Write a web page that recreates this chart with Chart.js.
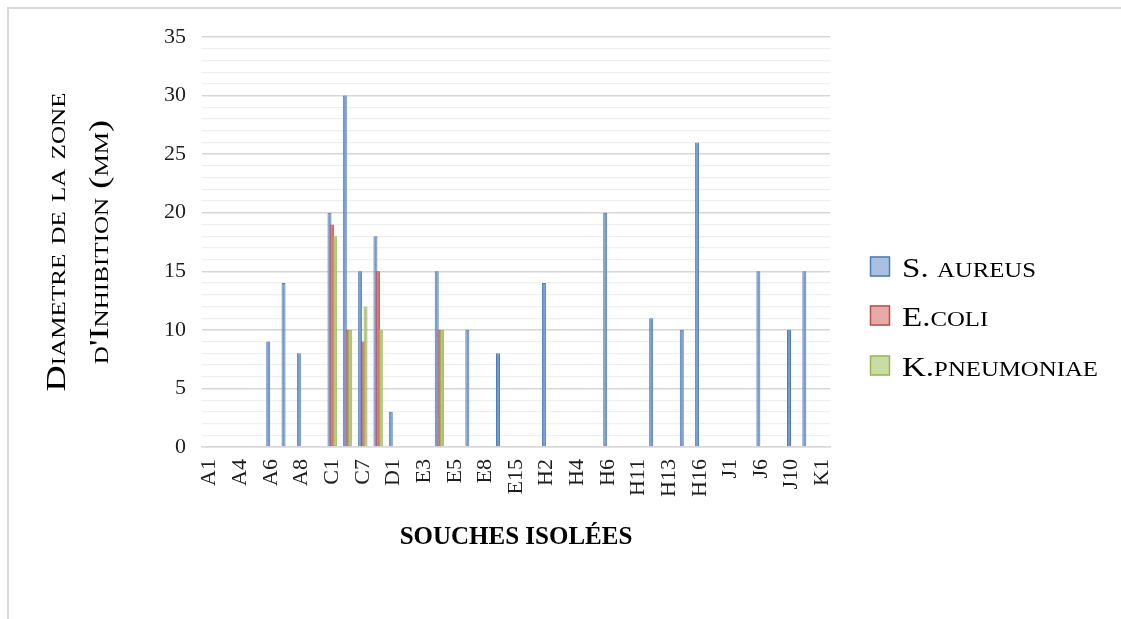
<!DOCTYPE html>
<html>
<head>
<meta charset="utf-8">
<script src="https://cdn.jsdelivr.net/npm/chart.js@4.4.0/dist/chart.umd.min.js"></script>
<style>
  html, body { margin: 0; padding: 0; background: #ffffff; }
  #wrap { position: relative; width: 1121px; height: 619px; }
</style>
</head>
<body>
<div id="wrap"><canvas id="chart" width="1121" height="619"></canvas></div>
<script>
// Isolated strains (only every other one is labelled on the axis)
const categories = [
  'A1', 'A3', 'A4', 'A5', 'A6', 'A7', 'A8', 'B1', 'C1', 'C5',
  'C7', 'C8', 'D1', 'E1', 'E3', 'E4', 'E5', 'E6', 'E8', 'E10',
  'E15', 'H1', 'H2', 'H3', 'H4', 'H5', 'H6', 'H10', 'H11', 'H12',
  'H13', 'H15', 'H16', 'I1', 'J1', 'J5', 'J6', 'J8', 'J10', 'J11', 'K1'
];

// Inhibition zone diameters (mm)
const sAureus = [
  null, null, null, null, 9, 14, 8, null, 20, 30,
  15, 18, 3, null, null, 15, null, 10, null, 8,
  null, null, 14, null, null, null, 20, null, null, 11,
  null, 10, 26, null, null, null, 15, null, 10, 15, null
];
const eColi = [
  null, null, null, null, null, null, null, null, 19, 10,
  9, 15, null, null, null, 10, null, null, null, null,
  null, null, null, null, null, null, null, null, null, null,
  null, null, null, null, null, null, null, null, null, null, null
];
const kPneumoniae = [
  null, null, null, null, null, null, null, null, 18, 10,
  12, 10, null, null, null, 10, null, null, null, null,
  null, null, null, null, null, null, null, null, null, null,
  null, null, null, null, null, null, null, null, null, null, null
];

const seriesNames = ['S. aureus', 'E.coli', 'K.pneumoniae'];
const yTitleLines = ['Diametre de la zone', "d'Inhibition (mm)"];
const xTitle = 'SOUCHES ISOLÉES';

const SERIF = "'Liberation Serif', 'Times New Roman', serif";
const palette = [
  { fill: '#7799cf', edge: '#4a7ebb', key: '#a9c0e2' },
  { fill: '#d4726f', edge: '#be4b48', key: '#e6aaa9' },
  { fill: '#abc86f', edge: '#98b954', key: '#c8dca3' }
];

// Small capitals: lowercase letters are drawn as reduced capitals.
function smallCapsRuns(text, big, ratio) {
  const runs = [];
  for (const ch of text) {
    const up = ch.toUpperCase();
    const small = up !== ch;
    runs.push({ ch: small ? up : ch, size: small ? big * ratio : big });
  }
  return runs;
}
function measureRuns(ctx, runs, weight) {
  let w = 0;
  for (const r of runs) {
    ctx.font = `${weight} ${r.size}px ${SERIF}`;
    r.w = ctx.measureText(r.ch).width;
    w += r.w;
  }
  return w;
}
function drawRuns(ctx, runs, x0, y, weight) {
  let x = x0;
  for (const r of runs) {
    ctx.font = `${weight} ${r.size}px ${SERIF}`;
    ctx.fillText(r.ch, x, y);
    x += r.w;
  }
}

// Series are painted in their natural order so later ones sit on top
// of the earlier ones where the bars of a group overlap.
const seriesLayering = {
  id: 'seriesLayering',
  beforeDatasetDraw(chart) {
    return chart.$layering === true;
  },
  afterDatasetsDraw(chart) {
    const ctx = chart.ctx;
    chart.$layering = true;
    chart.data.datasets.forEach((ds, i) => {
      const meta = chart.getDatasetMeta(i);
      if (!meta.hidden) meta.data.forEach((el) => el.draw(ctx));
    });
    chart.$layering = false;
  }
};

const decorations = {
  id: 'decorations',
  beforeDraw(chart) {
    const ctx = chart.ctx;
    ctx.save();
    ctx.fillStyle = '#ffffff';
    ctx.fillRect(0, 0, chart.width, chart.height);
    // outer frame
    ctx.strokeStyle = '#d9d9d9';
    ctx.lineWidth = 2;
    ctx.beginPath();
    ctx.moveTo(8, chart.height);
    ctx.lineTo(8, 8);
    ctx.lineTo(chart.width, 8);
    ctx.stroke();
    ctx.restore();
  },
  afterDraw(chart) {
    const ctx = chart.ctx;
    const area = chart.chartArea;
    ctx.save();
    ctx.fillStyle = '#000000';
    ctx.textBaseline = 'alphabetic';

    // y-axis title, two rotated lines
    const cy = (area.top + area.bottom) / 2;
    const baselines = [65, 108];
    yTitleLines.forEach((line, i) => {
      const runs = smallCapsRuns(line, 28, 0.69);
      const w = measureRuns(ctx, runs, 'normal');
      ctx.save();
      ctx.translate(baselines[i], cy);
      ctx.rotate(-Math.PI / 2);
      ctx.scale(1.3, 1);
      drawRuns(ctx, runs, -w / 2, 0, 'normal');
      ctx.restore();
    });

    // x-axis title
    ctx.font = `bold 25px ${SERIF}`;
    ctx.textAlign = 'center';
    ctx.fillText(xTitle, (area.left + area.right) / 2, 544);
    ctx.textAlign = 'left';

    // legend
    const rowY = [266.5, 315.5, 365.5];
    seriesNames.forEach((name, i) => {
      const c = palette[i];
      const y = rowY[i];
      ctx.fillStyle = c.key;
      ctx.fillRect(870, y - 10, 20, 20);
      ctx.strokeStyle = c.edge;
      ctx.lineWidth = 1.5;
      ctx.strokeRect(870.5, y - 9.5, 19, 19);
      ctx.fillStyle = '#000000';
      const runs = smallCapsRuns(name, 28, 0.75);
      measureRuns(ctx, runs, 'normal');
      ctx.save();
      ctx.translate(902, y + 10);
      ctx.scale(1.18, 1);
      drawRuns(ctx, runs, 0, 0, 'normal');
      ctx.restore();
    });
    ctx.restore();
  }
};

const makeSet = (label, data, c) => ({
  label, data,
  backgroundColor: c.fill,
  borderColor: c.edge,
  borderWidth: 1
});

new Chart(document.getElementById('chart'), {
  type: 'bar',
  data: {
    labels: categories,
    datasets: [
      makeSet(seriesNames[0], sAureus, palette[0]),
      makeSet(seriesNames[1], eColi, palette[1]),
      makeSet(seriesNames[2], kPneumoniae, palette[2])
    ]
  },
  options: {
    responsive: false,
    animation: false,
    events: [],
    layout: { padding: { left: 0, right: 291, top: 37, bottom: 0 } },
    datasets: { bar: { categoryPercentage: 0.53, barPercentage: 1.48 } },
    plugins: { legend: { display: false }, tooltip: { enabled: false } },
    scales: {
      x: {
        grid: { display: false, drawTicks: false },
        border: { display: true, color: '#d9d9d9', width: 1.5 },
        ticks: {
          autoSkip: false,
          minRotation: 90,
          maxRotation: 90,
          padding: 12,
          color: '#1e1e1e',
          font: { family: SERIF, size: 22 },
          callback: (v, i) => (i % 2 === 0 ? categories[i] : '')
        },
        afterFit: (s) => { s.height = 172; }
      },
      y: {
        min: 0,
        max: 35,
        border: { display: false },
        grid: {
          drawTicks: false,
          color: (c) => (c.tick.value % 5 === 0 ? '#d6d6d6' : '#efefef'),
          lineWidth: (c) => (c.tick.value % 5 === 0 ? 1.5 : 1.2)
        },
        ticks: {
          stepSize: 1,
          autoSkip: false,
          padding: 16,
          color: '#1e1e1e',
          font: { family: SERIF, size: 22 },
          callback: (v) => (v % 5 === 0 ? v : '')
        },
        afterFit: (s) => { s.width = 202; }
      }
    }
  },
  plugins: [seriesLayering, decorations]
});
</script>
</body>
</html>
